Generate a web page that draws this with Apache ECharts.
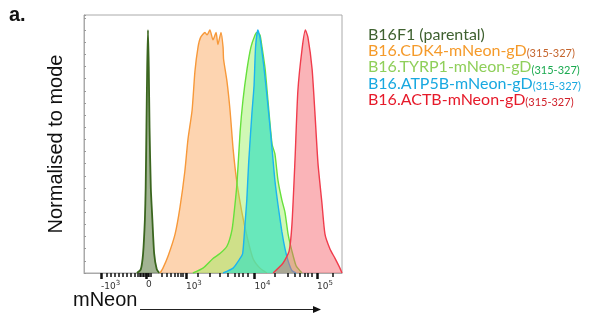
<!DOCTYPE html>
<html>
<head>
<meta charset="utf-8">
<script src="https://cdn.jsdelivr.net/npm/echarts@6/dist/echarts.min.js"></script>
<style>
  html, body { margin: 0; padding: 0; background: #fff; }
  #chart { width: 599px; height: 320px; }
</style>
</head>
<body>
<div id="chart"></div>
<script>
// x values are display channels of the biexponential mNeon axis (0-1000), y is % of mode
const seriesNames = [
  'B16F1 (parental)',
  'B16.CDK4-mNeon-gD(315-327)',
  'B16.TYRP1-mNeon-gD(315-327)',
  'B16.ATP5B-mNeon-gD(315-327)',
  'B16.ACTB-mNeon-gD(315-327)'
];

const parental = [
  [205, 0], [220, 1.5], [229, 8], [236, 22], [239, 35], [242, 60], [245, 85], [248, 100],
  [251, 85], [254, 60], [259, 35], [265, 22], [272, 8], [282, 1.5], [292, 0]
];

const cdk4 = [
  [295, 0], [306, 2], [326, 7], [353, 16], [372, 27], [391, 42], [403, 55], [419, 67],
  [430, 83], [442, 93], [452, 97], [469, 99], [477, 98], [488, 100], [500, 96], [512, 99],
  [519, 94], [531, 99], [539, 93], [541, 88], [554, 79], [566, 67], [578, 51], [593, 37],
  [612, 25], [632, 15], [655, 6], [682, 2], [709, 0]
];

const tyrp1 = [
  [422, 0], [461, 2], [500, 6], [527, 8], [554, 11], [574, 18], [585, 28], [593, 37],
  [605, 58], [616, 71], [632, 84], [647, 93], [663, 98], [670, 99], [682, 98], [690, 93],
  [702, 84], [713, 71], [729, 53], [740, 49], [752, 38], [767, 30], [779, 25], [791, 16],
  [806, 9], [822, 3], [845, 0]
];

const atp5b = [
  [539, 0], [578, 2], [605, 6], [615, 8], [624, 20], [631, 30], [638, 45], [651, 66],
  [659, 77], [665, 93], [674, 100], [682, 97], [697, 85], [711, 71], [729, 51], [740, 38],
  [752, 28], [767, 17], [779, 10], [791, 5], [806, 1], [822, 0]
];

const actb = [
  [733, 0], [771, 4], [795, 9], [806, 20], [818, 47], [829, 75], [845, 92], [858, 100],
  [868, 97], [884, 84], [895, 66], [907, 45], [922, 29], [934, 16], [953, 10], [973, 6],
  [992, 2], [1000, 0]
];

// axis ticks (display channels) and their labels
const majorTicks = [66, 240, 395, 661, 903];
const majorLabels = ['-10{s|3}', '0', '10{s|3}', '10{s|4}', '10{s|5}'];
const minorTicks = [
  88, 105, 120, 136, 151, 167, 182, 198,
  209, 215, 221, 227, 233, 238, 246, 252, 258,
  301, 321, 337, 353, 364, 376, 384,
  442, 488, 527, 558, 585, 601, 616, 636,
  740, 791, 818, 837, 857, 868, 884,
  965
];

const lineColors = ['#3b661f', '#f7993a', '#66e03c', '#1cb4f0', '#f03c4c'];
const lineWidths = [1.8, 1.4, 1.4, 1.4, 1.4];
const fillColors = [
  'rgba(70,105,40,0.5)',
  'rgba(250,160,80,0.45)',
  'rgba(150,240,90,0.45)',
  'rgba(60,225,190,0.7)',
  'rgba(245,95,105,0.47)'
];
const textColors = ['#3f6130', '#f59a2a', '#8fcf5a', '#18a8e0', '#e61a2a'];
const subColors = ['#3f6130', '#c4642c', '#1aaa50', '#18a8e0', '#d0202a'];

const chart = echarts.init(document.getElementById('chart'));

const rich = {};
textColors.forEach((c, i) => {
  rich['m' + i] = { color: c, fontSize: 16, fontFamily: 'Lato', lineHeight: 16.6, verticalAlign: 'middle' };
  rich['s' + i] = { color: subColors[i], fontSize: 11, fontFamily: 'Lato', lineHeight: 8, verticalAlign: 'bottom' };
});

const allData = [parental, cdk4, tyrp1, atp5b, actb];

chart.setOption({
  animation: false,
  grid: {
    left: 84, top: 15, width: 258, height: 258,
    show: true, borderColor: '#aaa', borderWidth: 1
  },
  legend: {
    orient: 'vertical',
    left: 363, top: 27,
    padding: 0,
    icon: 'none',
    itemWidth: 0, itemHeight: 10, itemGap: 0,
    selectedMode: false,
    data: seriesNames,
    formatter: name => {
      const i = seriesNames.indexOf(name);
      const k = name.indexOf('(315');
      if (k < 0) return '{m' + i + '|' + name + '}';
      return '{m' + i + '|' + name.slice(0, k) + '}{s' + i + '|' + name.slice(k) + '}';
    },
    textStyle: { rich: rich }
  },
  xAxis: [
    {
      type: 'value', min: 0, max: 1000,
      axisLine: { show: true, lineStyle: { color: '#aaa' } },
      splitLine: { show: false },
      axisTick: {
        customValues: majorTicks, length: 6,
        lineStyle: { color: '#111', width: 2.5 }
      },
      axisLabel: {
        customValues: majorTicks,
        align: 'left', margin: 7,
        color: '#333', fontSize: 9, fontFamily: 'DejaVu Sans',
        formatter: v => majorLabels[majorTicks.indexOf(v)],
        rich: { s: { fontSize: 7, color: '#333', padding: [0, 0, 7, 0] } }
      }
    },
    {
      type: 'value', min: 0, max: 1000, position: 'bottom',
      axisLine: { show: false },
      splitLine: { show: false },
      axisTick: {
        customValues: minorTicks, length: 4,
        lineStyle: { color: '#111', width: 1.5 }
      },
      axisLabel: { show: false }
    }
  ],
  yAxis: {
    type: 'value', min: 0, max: 106.2, interval: 5,
    name: 'Normalised to mode',
    nameLocation: 'middle', nameGap: 18,
    nameTextStyle: { fontSize: 20, color: '#111', fontFamily: 'Liberation Sans' },
    axisLine: { show: true, lineStyle: { color: '#aaa' } },
    axisTick: { inside: true, length: 2, lineStyle: { color: '#999' } },
    axisLabel: { show: false },
    splitLine: { show: false }
  },
  graphic: [
    {
      type: 'text', left: 9, top: 5,
      style: { text: 'a.', font: 'bold 20px "Liberation Sans"', fill: '#111' }
    },
    {
      type: 'text', left: 73, top: 290,
      style: { text: 'mNeon', font: '20px "Liberation Sans"', fill: '#111' }
    },
    {
      type: 'line',
      shape: { x1: 140, y1: 309.5, x2: 314, y2: 309.5 },
      style: { stroke: '#222', lineWidth: 1 }
    },
    {
      type: 'polygon',
      shape: { points: [[313, 306], [321, 309.5], [313, 313]] },
      style: { fill: '#111' }
    }
  ],
  series: allData.map((d, i) => ({
    name: seriesNames[i],
    type: 'line',
    data: d,
    showSymbol: false,
    smooth: 0.2,
    lineStyle: { color: lineColors[i], width: lineWidths[i] },
    itemStyle: { color: lineColors[i] },
    areaStyle: { color: fillColors[i], opacity: 1 },
    z: 2 + i
  }))
});
</script>
</body>
</html>
